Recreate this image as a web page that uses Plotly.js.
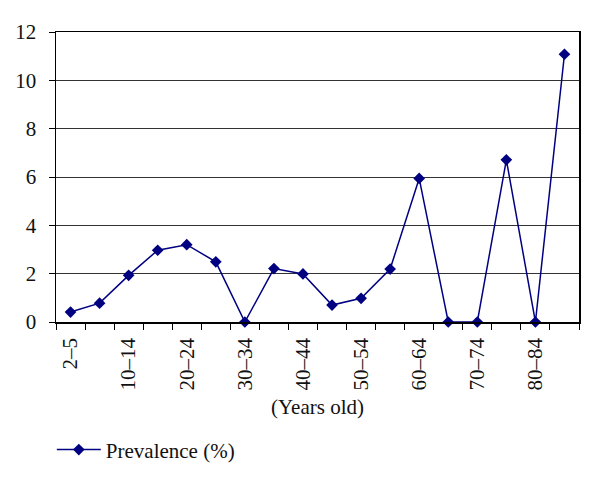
<!DOCTYPE html>
<html>
<head>
<meta charset="utf-8">
<script src="https://cdn.plot.ly/plotly-3.0.1.min.js"></script>
<style>html,body{margin:0;padding:0;background:#fff;}</style>
</head>
<body>
<div id="chart" style="width:600px;height:481px;"></div>
<script>
const ageGroups = ['2–5','6–9','10–14','15–19','20–24','25–29','30–34','35–39','40–44','45–49','50–54','55–59','60–64','65–69','70–74','75–79','80–84','85+'];
const prevalence = [0.41, 0.78, 1.93, 2.97, 3.2, 2.49, 0, 2.21, 1.99, 0.7, 0.98, 2.19, 5.94, 0, 0, 6.71, 0, 11.08];
const tickLabels = ['2–5','','10–14','','20–24','','30–34','','40–44','','50–54','','60–64','','70–74','','80–84',''];
const seriesName = 'Prevalence (%)';
const xTitle = '(Years old)';

const font = "'Liberation Serif', 'DejaVu Serif', serif";
const navy = '#000080';
const fs = 21;

const trace = {
  x: ageGroups,
  y: prevalence,
  type: 'scatter',
  mode: 'lines+markers',
  name: seriesName,
  line: {color: navy, width: 1.5},
  marker: {symbol: 'diamond', size: 9, color: navy},
  cliponaxis: false
};

const layout = {
  width: 600, height: 481,
  margin: {l: 56, r: 21, t: 32, b: 158},
  paper_bgcolor: '#fff', plot_bgcolor: '#fff',
  font: {family: font, size: fs, color: '#111'},
  showlegend: true,
  legend: {x: -0.008, xanchor: 'left', y: -0.436, yanchor: 'middle', itemwidth: 44, font: {family: font, size: fs, color: '#111'}, bgcolor: 'rgba(0,0,0,0)'},
  xaxis: {
    type: 'category',
    tickson: 'boundaries',
    tickvals: ageGroups,
    ticktext: tickLabels,
    tickangle: -90,
    ticks: 'outside', ticklen: 6, tickcolor: '#000', tickwidth: 1,
    showline: true, linecolor: '#000', linewidth: 1.5, mirror: true,
    showgrid: false, zeroline: false,
    ticklabelstandoff: 6,
    tickfont: {family: font, size: fs, color: '#111'},
    title: {text: xTitle, font: {family: font, size: fs, color: '#111'}, standoff: 10},
    range: [-0.5, 17.5]
  },
  yaxis: {
    range: [0, 12], dtick: 2,
    ticks: 'outside', ticklen: 6, tickcolor: '#000', tickwidth: 1,
    showline: true, linecolor: '#000', linewidth: 1.5, mirror: true,
    showgrid: true, gridcolor: '#333', gridwidth: 1,
    zeroline: false,
    ticklabelstandoff: 8,
    tickfont: {family: font, size: fs, color: '#111'}
  }
};

Plotly.newPlot('chart', [trace], layout, {displayModeBar: false, staticPlot: true});
</script>
</body>
</html>
